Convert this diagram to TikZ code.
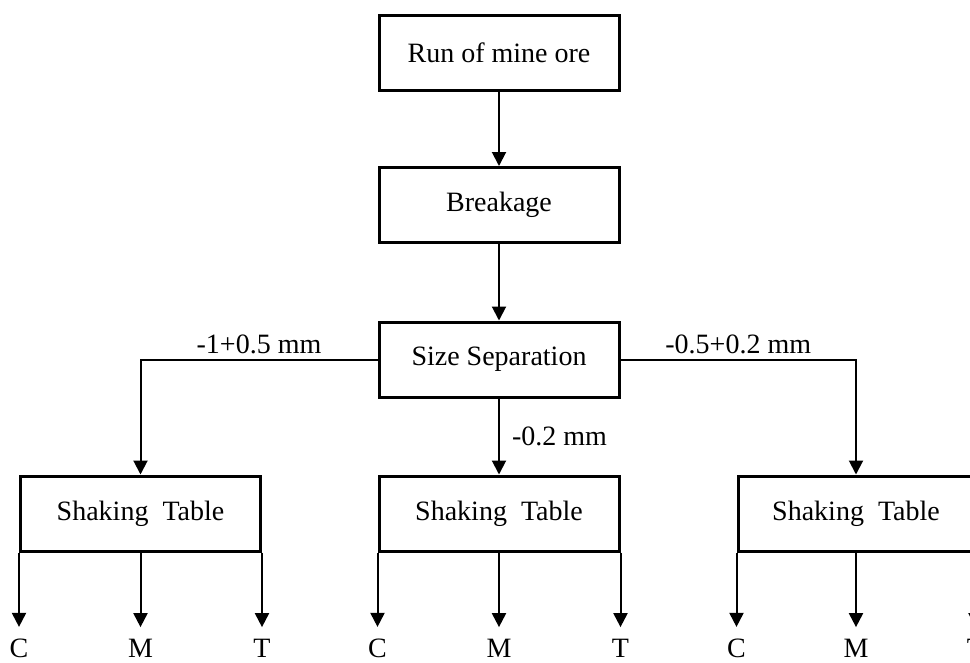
\documentclass[tikz,border=0pt]{standalone}
\usepackage{fontspec}
\setmainfont{Liberation Serif}
\usetikzlibrary{arrows.meta}
\tikzset{
  stagebox/.style={draw,line width=3pt,minimum width=240pt,minimum height=75pt,inner sep=0pt},
  arr/.style={->,line width=2pt},
  lbl/.style={inner sep=0pt},
  prod/.style={inner sep=0pt}
}

\begin{document}
\begin{tikzpicture}[>={Triangle[length=14pt,width=14pt]},x=1pt,y=1pt,
    font=\fontsize{28}{33}\selectfont]
    \useasboundingbox (0,0) rectangle (970,-662);
            \node[stagebox] (roi) at (499,-52.5) {Run of mine ore};
            \node[stagebox] (brk) at (499,-205) {Breakage};
            \node[stagebox] (sep) at (499,-359.5) {Size Separation};
            \foreach \t/\x/\w in {L/140.5/240,M/499/240,R/856/236}
                \node[stagebox,minimum width=\w pt] (tab\t) at (\x,-513.5) {Shaking~~Table};
            \draw[arr] (roi) -- (brk);
            \draw[arr] (brk) -- (sep);
            \draw[arr] (sep.west) -| (tabL.north)
                node[lbl,pos=0.25,above=5pt] {-1+0.5 mm};
            \draw[arr] (sep) -- (tabM)
                node[lbl,midway,right=12pt] {-0.2 mm};
            \draw[arr] (sep.east) -| (tabR.north)
                node[lbl,pos=0.25,above=5pt] {-0.5+0.2 mm};
            % products of each table
            \foreach \t in {L,M,R}{
                \node[prod] (\t C) at ([yshift=-96pt]tab\t.south west) {C};
                \node[prod] (\t M) at ([yshift=-96pt]tab\t.south) {M};
                \node[prod] (\t T) at ([yshift=-96pt]tab\t.south east) {T};
                \foreach \p/\a in {C/south west,M/south,T/south east}
                    \draw[arr,shorten >=12pt] (tab\t.\a) -- (\t\p);
            }
        \end{tikzpicture}
\end{document}
